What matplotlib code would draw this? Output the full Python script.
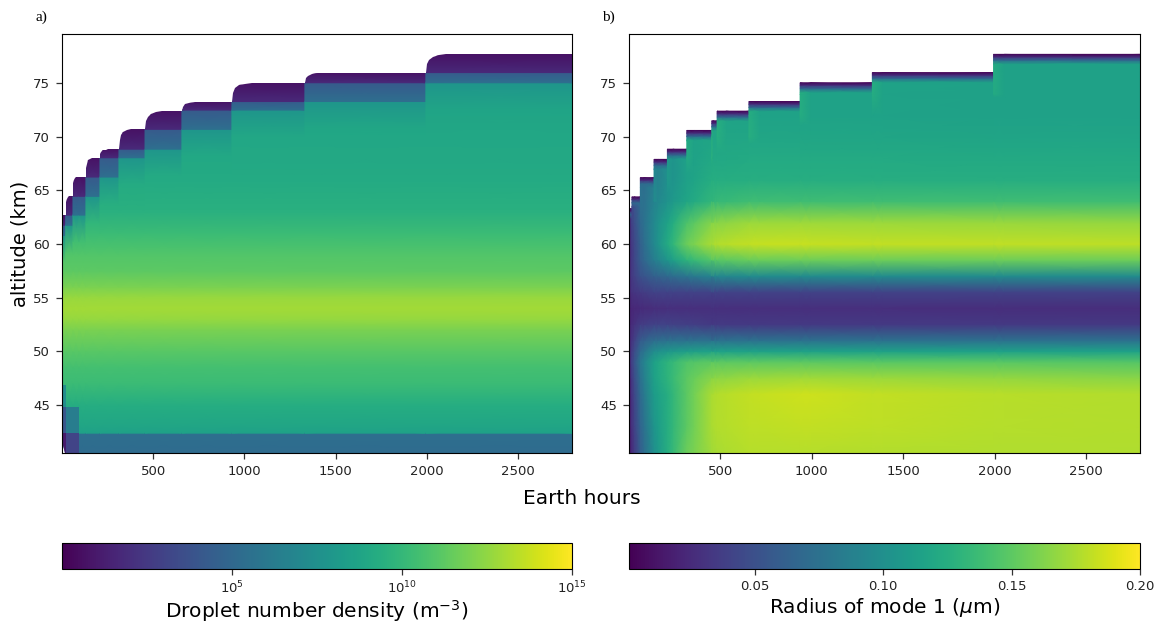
"""Cloud droplet number density and mode 1 radius against time and altitude."""
import numpy as np
import matplotlib
matplotlib.use("Agg")
import matplotlib.pyplot as plt
from matplotlib.colors import LogNorm, Normalize
from matplotlib.cm import ScalarMappable
from matplotlib.patches import Polygon

W, H = 1157, 622
XLIM = (0, 2795)
YLIM = (40.5, 79.6)
X_TICKS = [500, 1000, 1500, 2000, 2500]
Y_TICKS = [45, 50, 55, 60, 65, 70, 75]

# panel a, column edges (hours) and the three top levels of each column (km)
a_edges = [0, 20, 60, 93, 131, 208, 312, 455, 657, 931, 1331, 1994, 2795]
a_tops = [62.7, 64.45, 66.25, 66.25, 68.05, 68.85, 70.7, 72.4, 73.3, 75.05, 76.0, 77.7]
a_mids = [61.75, 62.7, 64.45, 64.45, 66.25, 68.05, 68.85, 70.7, 72.5, 73.3, 75.05, 76.0]
a_lows = [60.8, 61.75, 62.7, 62.7, 64.45, 66.25, 68.05, 68.85, 70.7, 72.5, 73.3, 75.05]
a_top_cell = [0.7, 1.7]    # log10 N, top and bottom of the uppermost cell
a_next_cell = [4.2, 5.4]   # the cell under it
a_below_cell = 7.8
# background profile of log10 N
a_z = [40.5, 42.35, 42.35, 43, 45, 47, 48.5, 50, 52, 53, 54, 55, 56, 57.5, 59,
       61, 63, 66, 70, 73, 75, 78]
a_logn = [5.2, 5.4, 8.6, 8.8, 9.3, 10.2, 10.5, 11.1, 12.0, 12.6, 12.9, 12.7,
          12.0, 11.2, 10.9, 10.2, 9.5, 9.1, 8.95, 8.7, 8.2, 7.8]
# early blocks near the cloud base
a_base_t = [0, 20, 93]
a_base_z = [40.5, 42.35, 44.8, 46.8]
a_base_logn = [[1.0, 3.0], [4.0, 6.3], [7.3, np.nan]]

# panel b, column edges and cloud top
b_edges = [0, 16, 62, 137, 210, 316, 453, 482, 656, 936, 1331, 1994, 2795]
b_tops = [63.3, 64.4, 66.2, 67.9, 68.85, 70.6, 71.5, 72.4, 73.3, 75.05, 76.0, 77.7]
b_z = [40.5, 43, 46, 47.5, 49, 50, 51, 52.5, 54, 55.5, 57, 58.5, 60, 62, 64,
       66, 68, 70, 72, 74, 76, 78]
r_0h = [.010, .012, .012, .014, .016, .018, .020, .020, .018, .020, .022, .022,
        .020, .018, .020, .020, .020, .020, .020, .020, .020, .020]
r_16h = [.025, .030, .032, .035, .040, .036, .032, .026, .022, .030, .035, .035,
         .035, .040, .045, .050, .050, .050, .050, .050, .050, .050]
r_62h = [.060, .065, .070, .075, .080, .070, .058, .036, .025, .035, .050, .060,
         .062, .068, .068, .068, .068, .068, .068, .068, .068, .068]
r_137h = [.100, .105, .110, .115, .115, .098, .072, .040, .027, .040, .062, .085,
          .095, .095, .090, .085, .085, .088, .088, .088, .088, .088]
r_210h = [.125, .125, .125, .130, .130, .106, .075, .040, .028, .040, .068, .105,
          .122, .116, .103, .100, .100, .104, .104, .104, .104, .104]
r_316h = [.155, .150, .150, .150, .145, .112, .075, .038, .028, .040, .078, .130,
          .155, .144, .118, .114, .114, .114, .114, .114, .114, .114]
r_453h = [.172, .175, .175, .165, .150, .114, .075, .035, .028, .040, .090, .146,
          .175, .163, .132, .124, .120, .118, .118, .118, .118, .118]
r_482h = [.174, .177, .177, .166, .150, .114, .075, .035, .028, .040, .092, .148,
          .177, .165, .134, .124, .120, .118, .118, .118, .118, .118]
r_656h = [.178, .180, .182, .170, .150, .115, .075, .034, .028, .040, .096, .154,
          .182, .170, .138, .125, .122, .118, .116, .116, .116, .116]
r_936h = [.178, .182, .185, .172, .150, .115, .075, .034, .028, .040, .096, .155,
          .183, .171, .138, .125, .122, .118, .116, .116, .116, .116]
r_1331h = [.177, .180, .182, .170, .148, .115, .075, .034, .028, .040, .096, .155,
           .182, .170, .138, .125, .122, .118, .116, .116, .116, .116]
r_1994h = [.176, .178, .179, .168, .148, .114, .075, .034, .027, .040, .096, .155,
           .181, .169, .138, .125, .121, .117, .115, .115, .115, .115]
r_2795h = [.176, .177, .177, .165, .147, .114, .075, .034, .027, .040, .096, .155,
           .180, .168, .138, .125, .121, .117, .115, .115, .115, .115]
b_profiles = [r_0h, r_16h, r_62h, r_137h, r_210h, r_316h, r_453h, r_482h, r_656h,
              r_936h, r_1331h, r_1994h, r_2795h]
# drop towards the cloud top: depth below top (km), value (um)
b_band_depth = [0.55, 0.25, 0.0]
b_band_r = [0.07, 0.03, 0.003]
B_BAND = 0.9
B_EDGE_GAIN = 0.008   # newly added column is a little larger at its left side
B_EDGE_DEPTH = 4.0

N_NORM = LogNorm(1, 1e15)
R_NORM = Normalize(0.001, 0.20)


def _px_axes(fig, x0, y0, x1, y1):
    return fig.add_axes([x0 / W, 1 - y1 / H, (x1 - x0) / W, (y1 - y0) / H])


def _style(ax):
    ax.set_xlim(*XLIM)
    ax.set_ylim(*YLIM)
    ax.set_xticks(X_TICKS)
    ax.set_yticks(Y_TICKS)
    ax.tick_params(labelsize=9.5, length=4.5, width=0.9, pad=4, color="#333333",
                   labelcolor="#222222")


def _outline_a():
    """Top of the cloud in panel a, with the rounded corners of each rise."""
    pts = [(15, 40.5), (7, 41.2), (1, 42.5), (0, 62.2), (6, a_tops[0])]
    for j in range(1, len(a_tops)):
        t0, t1 = a_edges[j], a_edges[j + 1]
        lo, hi = a_tops[j - 1], a_tops[j]
        w = min(110, 0.45 * (t1 - t0))
        for f, g in [(0, 0), (0.06, 0.45), (0.15, 0.7), (0.35, 0.87), (0.65, 0.96), (1, 1)]:
            pts.append((t0 + f * w, lo + g * (hi - lo)))
    pts += [(a_edges[-1], a_tops[-1]), (a_edges[-1], 40.5)]
    return pts


def draw_a(ax):
    clip = Polygon(_outline_a(), closed=True, transform=ax.transData)
    z = np.array(a_z)
    logn = np.array(a_logn)
    for j in range(len(a_tops)):
        top, mid, low = a_tops[j], a_mids[j], a_lows[j]
        join = low - 2.5
        keep = z < join
        zz = np.r_[z[keep], join, low, low, mid, mid, top]
        vv = np.r_[logn[keep], np.interp(join, z[3:], logn[3:]), a_below_cell,
                   a_next_cell[1], a_next_cell[0], a_top_cell[1], a_top_cell[0]]
        cc = 10.0 ** np.column_stack([vv, vv])
        m = ax.pcolormesh(a_edges[j:j + 2], zz, cc, shading="gouraud", cmap="viridis", norm=N_NORM)
        m.set_clip_path(clip)
    base = 10.0 ** np.ma.masked_invalid(np.array(a_base_logn))
    m = ax.pcolormesh(a_base_t, a_base_z, base, shading="flat", cmap="viridis", norm=N_NORM)
    m.set_clip_path(clip)


def draw_b(ax):
    z = np.array(b_z)
    for j in range(len(b_tops)):
        top = b_tops[j]
        t0, t1 = b_edges[j], b_edges[j + 1]
        left, right = np.array(b_profiles[j]), np.array(b_profiles[j + 1])
        low = top - B_EDGE_DEPTH
        high = top - B_BAND
        keep = z < low
        inner = (z > low) & (z < high)
        zz = np.r_[z[keep], low, z[inner], high, [top - d for d in b_band_depth]]
        cl = np.interp(zz[:-3], z, left)
        cr = np.interp(zz[:-3], z, right)
        boost = cl + B_EDGE_GAIN * (zz[:-3] > low) * (j > 1)
        tt = [t0, t0 + min(60, 0.3 * (t1 - t0)), t1]
        mid_col = cl + (cr - cl) * (tt[1] - t0) / (t1 - t0)
        cc = np.column_stack([boost, mid_col, cr])
        cc = np.vstack([cc, np.column_stack([b_band_r] * 3)])
        ax.pcolormesh(tt, zz, cc, shading="gouraud", cmap="viridis", norm=R_NORM)


def render():
    fig = plt.figure(figsize=(W / 100, H / 100), dpi=100)
    ax_a = _px_axes(fig, 62, 34, 572, 453)
    ax_b = _px_axes(fig, 629, 34, 1140, 453)
    draw_a(ax_a)
    draw_b(ax_b)
    _style(ax_a)
    _style(ax_b)
    ax_a.set_ylabel("altitude (km)", fontsize=14, labelpad=3)

    cax_a = _px_axes(fig, 62, 543, 572, 569)
    cax_b = _px_axes(fig, 629, 543, 1140, 569)
    cb_a = fig.colorbar(ScalarMappable(N_NORM, "viridis"), cax=cax_a, orientation="horizontal")
    cb_a.set_ticks([1e5, 1e10, 1e15])
    cb_a.ax.xaxis.set_minor_locator(plt.NullLocator())
    cb_a.set_label("Droplet number density (m$^{-3}$)", fontsize=14.5, labelpad=1)
    cb_b = fig.colorbar(ScalarMappable(R_NORM, "viridis"), cax=cax_b, orientation="horizontal")
    cb_b.set_ticks([0.05, 0.10, 0.15, 0.20])
    cb_b.ax.set_xticklabels(["0.05", "0.10", "0.15", "0.20"])
    cb_b.set_label(r"Radius of mode 1 ($\mu$m)", fontsize=14.5, labelpad=2)
    for cb in (cb_a, cb_b):
        cb.ax.tick_params(labelsize=9.5, length=4.5, width=0.9, color="#333333",
                          labelcolor="#222222")

    fig.text(582 / W, 1 - 499 / H, "Earth hours", fontsize=14.5, ha="center", va="center")
    fig.text(36 / W, 1 - 17 / H, "a)", family="Liberation Serif", fontsize=11, va="center")
    fig.text(602 / W, 1 - 17 / H, "b)", family="Liberation Serif", fontsize=11, va="center")
    fig.savefig("out.png", dpi=100)
    plt.close(fig)


if __name__ == "__main__":
    render()
